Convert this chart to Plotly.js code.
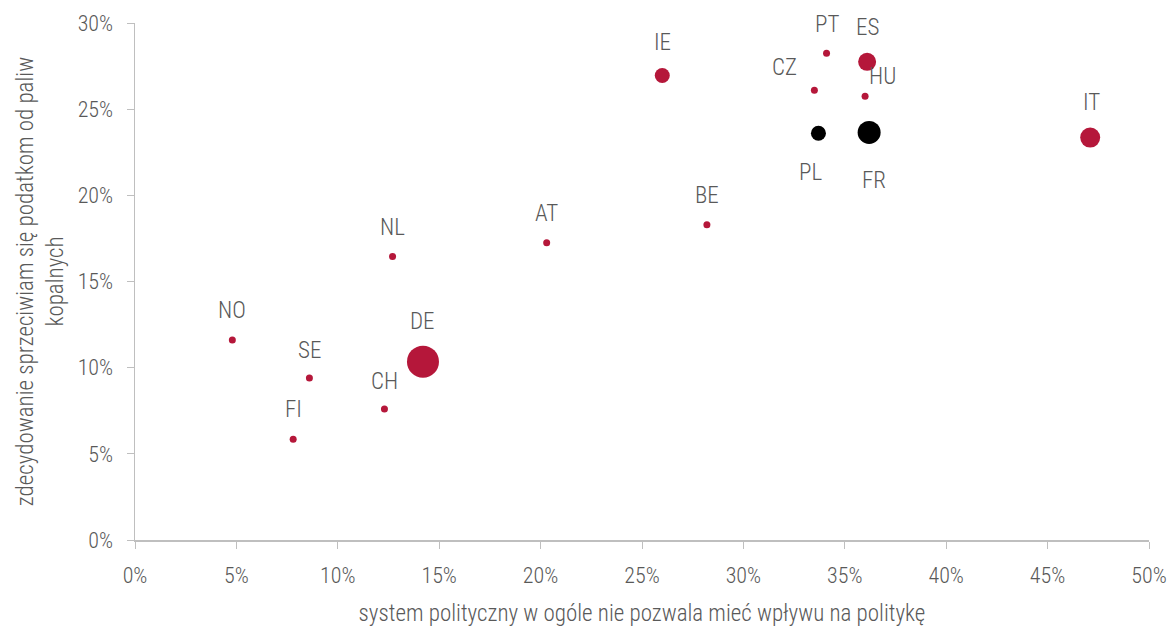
<!DOCTYPE html>
<html><head><meta charset="utf-8">
<script src="https://cdn.plot.ly/plotly-3.0.1.min.js"></script>
<style>html,body{margin:0;padding:0;background:#fff}</style>
</head><body><div id="chart" style="width:1171px;height:627px"></div>
<script>
const countries = ["NO","SE","FI","CH","DE","NL","AT","BE","IE","CZ","PT","ES","HU","PL","FR","IT"];
const noVoice   = [4.8, 8.6, 7.8, 12.3, 14.2, 12.7, 20.3, 28.2, 26.0, 33.5, 34.1, 36.1, 36.0, 33.7, 36.2, 47.1];
const opposeTax = [11.6, 9.4, 5.85, 7.6, 10.35, 16.45, 17.25, 18.3, 26.95, 26.1, 28.25, 27.75, 25.75, 23.6, 23.65, 23.35];
const weight    = [7, 7, 7, 7, 32, 7, 7, 7, 15, 7, 7, 18, 7, 15, 23, 20];
const group     = ["o","o","o","o","o","o","o","o","o","o","o","o","o","h","h","o"];
const xTicks = [0,5,10,15,20,25,30,35,40,45,50];
const yTicks = [0,5,10,15,20,25,30];

const labelShift = {NO:[0,30],SE:[0,28],FI:[0,30],CH:[0,28],DE:[0,40],NL:[0,29],AT:[0,29],BE:[0,29],
  IE:[0,33],CZ:[-30,23],PT:[0,29],ES:[0,34],HU:[17,20],PL:[-8,-39],FR:[5,-48],IT:[1,35]};

const RED = "#B5173A";
const font = "'Roboto Condensed','Liberation Sans Narrow','DejaVu Sans Condensed',sans-serif";

const trace = {
  type:"scatter", mode:"markers",
  x: noVoice, y: opposeTax, text: countries,
  marker:{size: weight, sizemode:"diameter", opacity:1, color: group.map(g=>g==="h"?"#000000":RED), line:{width:0}},
  hoverinfo:"text", showlegend:false
};

const annotations = countries.map((c,i)=>({
  x: noVoice[i], y: opposeTax[i], xref:"x", yref:"y", text:c, showarrow:false,
  xshift: labelShift[c][0], yshift: labelShift[c][1],
  font:{family:font, size:23, weight:300, color:"#595959"}
}));

const layout = {
  width:1171, height:627,
  margin:{l:135, r:22, t:23, b:87},
  paper_bgcolor:"#fff", plot_bgcolor:"#fff",
  font:{family:font, color:"#595959", size:22, weight:300},
  xaxis:{range:[0,50], tickvals:xTicks, ticktext:xTicks.map(v=>v+"%"), showgrid:false, zeroline:false,
    showline:true, linecolor:"#BFBFBF", linewidth:1.5, ticks:"outside", ticklen:7, tickcolor:"#BFBFBF",
    ticklabelstandoff:8,
    tickfont:{size:22, weight:300, color:"#595959"},
    title:{text:"system polityczny w ogóle nie pozwala mieć wpływu na politykę", font:{size:23, weight:300, color:"#595959"}, standoff:18}},
  yaxis:{range:[0,30], tickvals:yTicks, ticktext:yTicks.map(v=>v+"%"), showgrid:false, zeroline:false,
    showline:true, linecolor:"#BFBFBF", linewidth:1.5, ticks:"outside", ticklen:7, tickcolor:"#BFBFBF",
    ticklabelstandoff:9,
    tickfont:{size:22, weight:300, color:"#595959"},
    title:{text:"zdecydowanie sprzeciwiam się podatkom od paliw<br>kopalnych", font:{size:23, weight:300, color:"#595959"}, standoff:7}},
  annotations: annotations
};
Plotly.newPlot("chart",[trace],layout,{displayModeBar:false, staticPlot:true});
</script></body></html>
